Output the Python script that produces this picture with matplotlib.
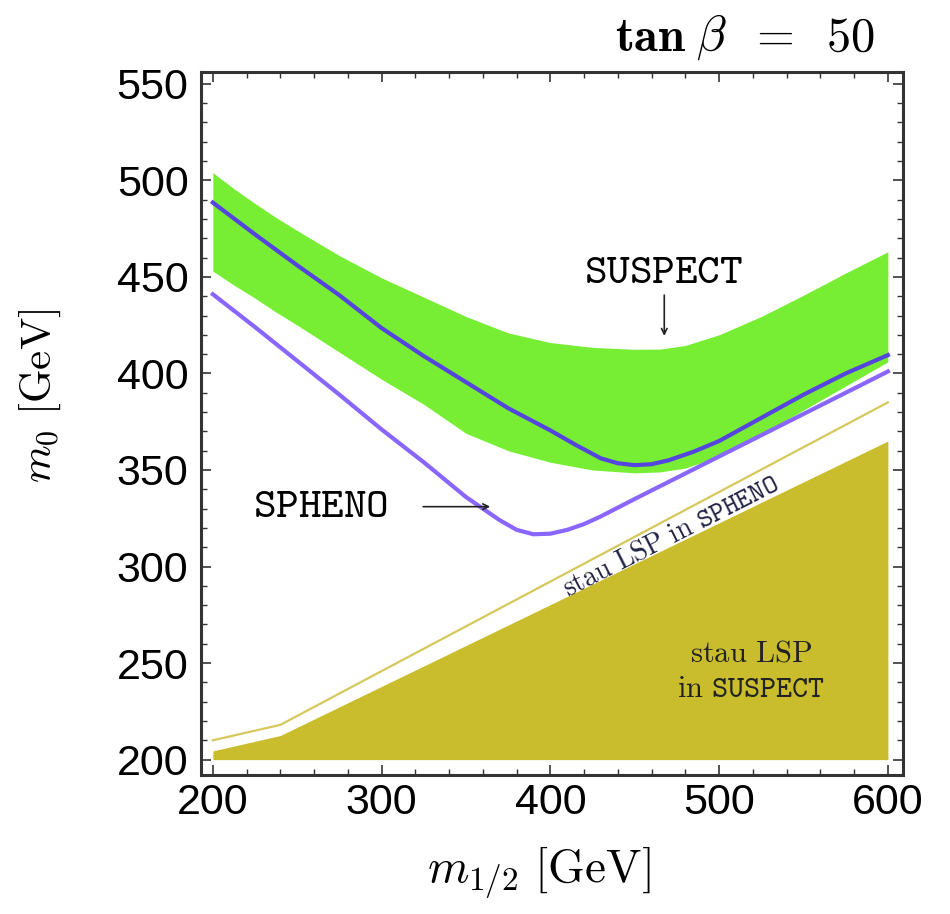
import matplotlib
matplotlib.use("Agg")
import matplotlib.pyplot as plt
from matplotlib.ticker import MultipleLocator

plt.rcParams["mathtext.fontset"] = "cm"

# green band (SUSPECT uncertainty)
band_x = [200, 212, 225, 237, 250, 275, 300, 325, 350, 375, 400, 425, 450, 465, 480, 500, 525, 550, 575, 600]
band_hi = [504, 496, 488, 481, 474, 461, 449.5, 439.5, 429.5, 421, 416, 413.5, 412.5, 412.6, 414.5, 420, 429.5, 440.5, 452, 463]
band_lo = [453, 446, 439, 432, 425, 411, 397, 384, 369, 360, 354, 350, 348.5, 349, 351, 357, 368.5, 381, 393.5, 406]

# SUSPECT central line
suspect_x = [200, 225, 250, 275, 300, 325, 350, 375, 400, 415, 430, 440, 450, 460, 470, 485, 500, 525, 550, 575, 600]
suspect_y = [488.5, 472, 456, 440.5, 423.5, 409, 395.5, 382, 370.5, 363, 356, 353.5, 352.5, 353, 355, 359.5, 365, 377, 389, 400, 409.5]

# SPHENO line
spheno_x = [200, 225, 250, 275, 300, 325, 350, 360, 370, 380, 390, 400, 410, 420, 430, 450, 475, 500, 525, 550, 575, 600]
spheno_y = [441, 424, 406.5, 389, 371, 354, 336, 330, 324, 319, 316.7, 317, 319, 322, 326, 335, 346, 357, 368, 379, 390, 401]

# stau LSP boundaries
stau_spheno_x = [200, 240, 600]
stau_spheno_y = [210, 218, 385]
stau_suspect_x = [200, 240, 600]
stau_suspect_y = [204.5, 212.5, 365]

fig = plt.figure(figsize=(9.5, 9.14), dpi=100)
ax = fig.add_axes([0.2116, 0.152, 0.739, 0.769])

ax.fill_between(band_x, band_lo, band_hi, color="#77EE33", lw=0)
ax.fill_between(stau_suspect_x, 200, stau_suspect_y, color="#C9BD2D", lw=0)
ax.plot(stau_spheno_x, stau_spheno_y, color="#D6C85A", lw=1.6)
ax.plot(spheno_x, spheno_y, color="#8866FF", lw=3)
ax.plot(suspect_x, suspect_y, color="#5544DD", lw=3)

ax.set_xlim(193, 609)
ax.set_ylim(192, 556)
ax.xaxis.set_major_locator(MultipleLocator(100))
ax.xaxis.set_minor_locator(MultipleLocator(20))
ax.yaxis.set_major_locator(MultipleLocator(50))
ax.yaxis.set_minor_locator(MultipleLocator(10))
ax.tick_params(which="both", direction="in", top=True, right=True, color="#333333")
ax.tick_params(which="major", length=7, width=1.2)
ax.tick_params(which="minor", length=4, width=1)
ax.tick_params(axis="x", pad=6)
ax.tick_params(axis="y", pad=9)
for lab in ax.get_xticklabels() + ax.get_yticklabels():
    lab.set_fontfamily("Liberation Sans")
    lab.set_fontsize(31)
for sp in ax.spines.values():
    sp.set_linewidth(2.2)
    sp.set_color("#333333")

ax.set_xlabel(r"$m_{1/2}\ [\mathrm{GeV}]$", fontsize=34, va="center")
ax.xaxis.set_label_coords(0.481, -0.138)
ax.set_ylabel(r"$m_0\ [\mathrm{GeV}]$", fontsize=31, va="center")
ax.yaxis.set_label_coords(-0.229, 0.54)
fig.text(0.921, 0.9595, r"$\mathbf{tan}\;\beta\;\;\mathbf{=}\;\;\mathbf{50}$", fontsize=35,
         ha="right", va="center")

ax.text(467, 453, r"$\mathtt{SUSPECT}$", fontsize=31, ha="center", va="center")
ax.annotate("", xy=(467.5, 418), xytext=(467.5, 442),
            arrowprops=dict(arrowstyle="->", color="#222222", lw=1.2))
ax.text(264, 332, r"$\mathtt{SPHENO}$", fontsize=31, ha="center", va="center")
ax.annotate("", xy=(366, 331), xytext=(323, 331),
            arrowprops=dict(arrowstyle="->", color="#222222", lw=1.2))

ax.text(471, 316, r"$\mathrm{stau\ LSP\ in}\ \mathtt{SPHENO}$", fontsize=20,
        rotation=27, rotation_mode="anchor", ha="center", va="center", color="#222244")
ax.text(519, 255, r"$\mathrm{stau\ LSP}$", fontsize=22, ha="center", va="center", color="#222222")
ax.text(519, 237, r"$\mathrm{in}\ \mathtt{SUSPECT}$", fontsize=22, ha="center", va="center", color="#222222")

fig.savefig("out.png", dpi=100)
